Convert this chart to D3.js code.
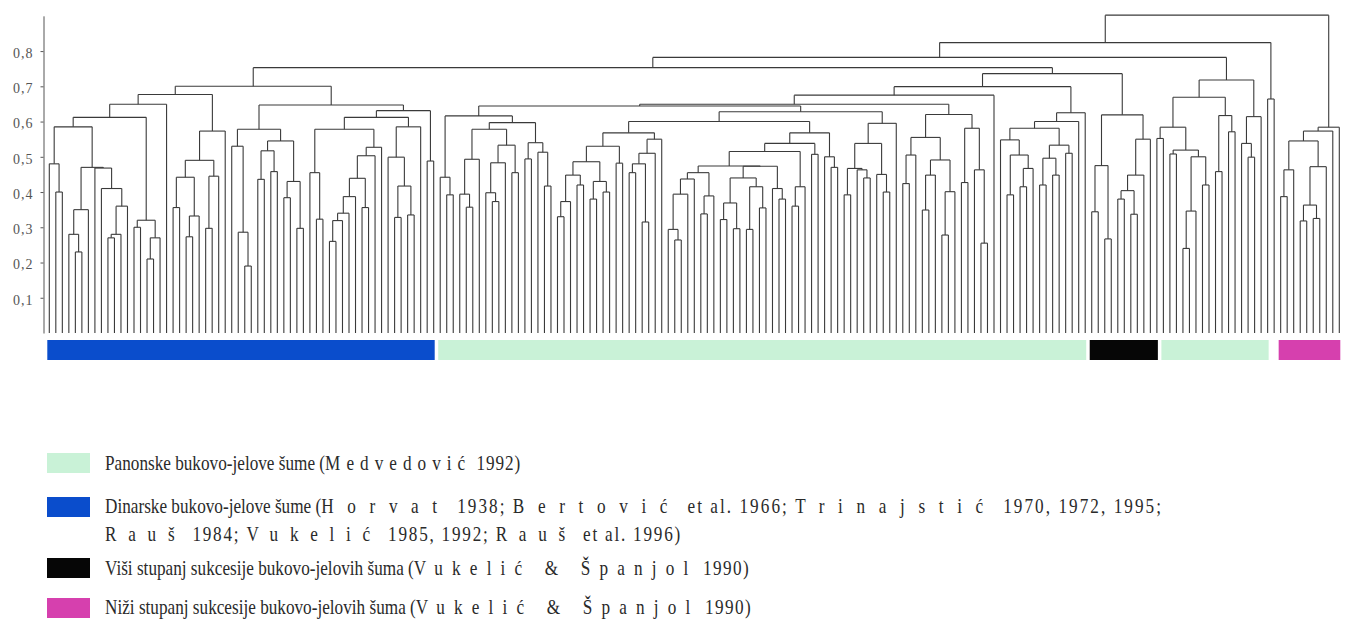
<!DOCTYPE html>
<html><head><meta charset="utf-8">
<script src="https://cdn.jsdelivr.net/npm/d3@7"></script>
<style>body{margin:0;background:#fff;} svg{display:block;}</style>
</head><body>
<svg id="chart" width="1348" height="624"></svg>
<script>
// ---- DATA: dendrogram subtrees as nested [height, child, child]; 0 = leaf ----
const blueTree = [0.70,
  [0.677,
    [0.649,
      [0.612,
        [0.585,
          [0.48, 0, [0.40, 0, 0]],
          [0.47, [0.35, [0.28, 0, [0.23, 0, 0]], 0], [0.468, 0, [0.41, 0, [0.36, [0.28, [0.27, 0, 0], 0], 0]]]]
        ],
        [0.32, [0.30, 0, 0], [0.27, [0.21, 0, 0], 0]]
      ],
      0
    ],
    [0.573, [0.49, [0.442, [0.356, 0, 0], [0.332, [0.273, 0, 0], 0]], [0.445, [0.297, 0, 0], 0]], 0]
  ],
  [0.647,
    [0.578,
      [0.53, 0, [0.286, 0, [0.19, 0, 0]]],
      [0.545, [0.517, [0.436, 0, 0], [0.458, 0, 0]], [0.43, [0.384, 0, 0], [0.297, 0, 0]]]
    ],
    [0.631,
      [0.612,
        [0.578,
          [0.455, 0, [0.323, 0, 0]],
          [0.527, [0.503, [0.439, [0.387, [0.34, [0.319, [0.26, 0, 0], 0], 0], 0], [0.356, 0, 0]], 0], 0]
        ],
        [0.585, [0.499, 0, [0.417, [0.328, 0, 0], [0.335, 0, 0]]], 0]
      ],
      [0.488, 0, 0]
    ]
  ]
];

const greenQLeft = [0.616, [0.442, 0, [0.392, 0, 0]],
  [0.597,
    [0.578, [0.493, [0.394, 0, [0.357, 0, 0]], 0], [0.533, [0.483, [0.398, 0, [0.373, 0, 0]], 0], [0.455, 0, 0]]],
    [0.54, [0.494, 0, 0], [0.513, 0, [0.417, 0, 0]]]
  ]
];
const greenSLeft = [0.568,
  [0.53, [0.486, [0.448, [0.373, [0.33, 0, 0], 0], [0.42, 0, 0]], [0.43, [0.38, 0, 0], [0.40, 0, 0]]], [0.482, 0, 0]],
  [0.55, [0.51, [0.48, [0.455, 0, 0], [0.315, 0, 0]], 0], 0]
];
const greenSRight = [0.568,
  [0.538,
    [0.515,
      [0.474,
        [0.455, [0.437, [0.394, [0.294, 0, [0.264, 0, 0]], 0], 0], [0.389, [0.338, 0, 0], 0]],
        [0.473, [0.44, [0.369, [0.322, 0, 0], [0.296, 0, 0]], [0.415, [0.294, 0, 0], [0.355, 0, 0]]], [0.41, 0, [0.38, 0, 0]]]
      ],
      [0.415, [0.36, 0, 0], 0]
    ],
    [0.507, 0, 0]
  ],
  [0.5, 0, [0.47, 0, 0]]
];
const greenT = [0.595, [0.538, [0.467, [0.392, 0, 0], [0.463, 0, [0.44, 0, 0]]], [0.45, 0, [0.40, 0, 0]]], 0];
const greenU = [0.62,
  [0.555, [0.505, [0.424, 0, 0], 0], [0.491, [0.448, [0.349, 0, 0], 0], [0.401, [0.278, 0, 0], 0]]],
  [0.581, [0.427, 0, 0], [0.463, 0, [0.255, 0, 0]]]
];
const greenW = [0.625,
  [0.6, [0.581, [0.548, 0, [0.505, [0.392, 0, 0], [0.467, [0.415, 0, 0], 0]]], [0.533, [0.496, [0.42, 0, 0], [0.448, 0, 0]], [0.51, 0, 0]]], 0],
  0
];
const greenHeights = [0.699, 0.675, 0.649, 0.644, 0.628, 0.60];

const blackTree = [0.619, [0.475, [0.344, 0, 0], [0.267, 0, 0]], [0.55, [0.448, [0.404, [0.38, 0, 0], [0.337, 0, 0]], 0], 0]];
const green2Tree = [0.718,
  [0.669,
    [0.584, [0.552, 0, 0], [0.519, [0.508, 0, 0], [0.5, [0.346, [0.24, 0, 0], 0], [0.42, 0, 0]]]],
    [0.617, [0.458, 0, 0], [0.571, 0, 0]]
  ],
  [0.614, [0.538, 0, [0.499, 0, 0]], 0]
];
const pairTree = [0.664, 0, 0];
const pinkTree = [0.584, [0.573, [0.545, [0.463, [0.387, 0, 0], 0], [0.472, [0.363, [0.318, 0, 0], [0.325, 0, 0]], 0]], 0], 0];
const topHeights = [0.902, 0.824, 0.782, 0.753, 0.736];

const yTicks = [0.1, 0.2, 0.3, 0.4, 0.5, 0.6, 0.7, 0.8];

// colour bars under the leaves (leaf index ranges)
const groupColors = ["#0a4dcc", "#c9f2d7", "#060606", "#c9f2d7", "#d640ae"];
const groupStart = [0, 60, 160, 171, 189];
const groupEnd   = [59, 159, 170, 187, 198];

// legend (segment kinds: 0 plain, 1 letter-spaced author name, 2 citation text)
const legendColors = ["#c9f2d7", "#0a4dcc", "#060606", "#d640ae"];
const legendLines = [
  [[["Panonske bukovo-jelove šume (", 0], ["Medvedović", 1], [" 1992)", 2]]],
  [[["Dinarske bukovo-jelove šume (", 0], ["Horvat", 1], [" 1938; ", 2], ["Bertović", 1], [" et al. 1966; ", 2], ["Trinajstić", 1], [" 1970, 1972, 1995;", 2]],
   [["Rauš", 1], [" 1984; ", 2], ["Vukelić", 1], [" 1985, 1992; ", 2], ["Rauš", 1], [" et al. 1996)", 2]]],
  [[["Viši stupanj sukcesije bukovo-jelovih šuma (", 0], ["Vukelić & Španjol", 1], [" 1990)", 2]]],
  [[["Niži stupanj sukcesije bukovo-jelovih šuma (", 0], ["Vukelić & Španjol", 1], [" 1990)", 2]]]
];

// ---- BUILD ----
const greenTree = [greenHeights[0],
  [greenHeights[1],
    [greenHeights[2],
      [greenHeights[3], greenQLeft, [greenHeights[4], [greenHeights[5], greenSLeft, greenSRight], greenT]],
      greenU],
    0],
  greenW];
const fullTree = [topHeights[0],
  [topHeights[1],
    [topHeights[2],
      [topHeights[3], blueTree, [topHeights[4], greenTree, blackTree]],
      green2Tree],
    pairTree],
  pinkTree];

const svg = d3.select("#chart");
const root = d3.hierarchy(fullTree, d => Array.isArray(d) ? d.slice(1) : null);
root.each(n => { n.h = Array.isArray(n.data) ? n.data[0] : 0; });
const leaves = root.leaves();

const x = d3.scaleLinear().domain([0, leaves.length - 1]).range([49.3, 1339.3]);
const y = d3.scaleLinear().domain([0, 0.9]).range([333, 333 - 0.9 * 352.4]);

leaves.forEach((l, i) => { l.x = x(i); });
root.eachAfter(n => { if (n.children) n.x = d3.mean(n.children, c => c.x); });

// axis
const axis = d3.axisLeft(y).tickValues(yTicks).tickSize(3).tickSizeOuter(0).tickPadding(7)
  .tickFormat(d => d3.format(".1f")(d).replace(".", ","));
const ag = svg.append("g").attr("transform", "translate(43.5,0)").call(axis);
ag.select(".domain").attr("stroke", "#555").attr("stroke-width", 1);
ag.selectAll(".tick line").attr("stroke", "#555");
ag.selectAll(".tick text").attr("font-family", "'Liberation Serif', 'Times New Roman', serif")
  .attr("font-size", 14).attr("fill", "#555").attr("letter-spacing", 1).attr("dy", "0.45em");

// dendrogram lines
const lg = svg.append("g").attr("fill", "none").attr("stroke", "#3a3a3a").attr("stroke-width", 1.1);
lg.selectAll("path.v").data(root.descendants().filter(n => n.parent)).join("path")
  .attr("class", "v")
  .attr("d", n => `M${n.x},${y(n.h)}V${y(n.parent.h)}`);
lg.selectAll("path.h").data(root.descendants().filter(n => n.children)).join("path")
  .attr("class", "h")
  .attr("d", n => `M${d3.min(n.children, c => c.x)},${y(n.h)}H${d3.max(n.children, c => c.x)}`);

// colour bars
svg.append("g").selectAll("rect").data(groupStart).join("rect")
  .attr("x", (d, i) => x(d) - 2)
  .attr("width", (d, i) => x(groupEnd[i]) + 1 - (x(d) - 2))
  .attr("y", 340).attr("height", 20)
  .attr("fill", (d, i) => groupColors[i]);

// legend
const swatchY = [453, 497, 558, 598];
const baselines = [[470], [513, 541], [575], [614]];
const lineEnds = [[521], [1163, 682], [750], [752]];
const sx = 0.86;             // condensed serif look
const kindWeight = [0, 1, 0.15];
const leg = svg.append("g");
legendLines.forEach((lines, i) => {
  leg.append("rect").attr("x", 47).attr("y", swatchY[i]).attr("width", 43).attr("height", 20)
    .attr("fill", legendColors[i]);
  lines.forEach((segs, j) => {
    const t = leg.append("text")
      .attr("transform", `translate(105,${baselines[i][j]}) scale(${sx},1)`)
      .attr("font-family", "'Liberation Serif', 'Times New Roman', serif")
      .attr("font-size", 20).attr("fill", "#2a2a2a");
    const spans = segs.map(([s, k]) => t.append("tspan").attr("letter-spacing", 0).text(s));
    const w = t.node().getComputedTextLength();
    const wsum = d3.sum(segs, ([s, k]) => s.length * kindWeight[k]);
    const ls = Math.max(1.5, ((lineEnds[i][j] - 105) / sx - w) / wsum);
    spans.forEach((sp, k) => {
      const wgt = kindWeight[segs[k][1]];
      if (wgt) sp.attr("letter-spacing", (ls * wgt).toFixed(2));
    });
  });
});
</script></body></html>
